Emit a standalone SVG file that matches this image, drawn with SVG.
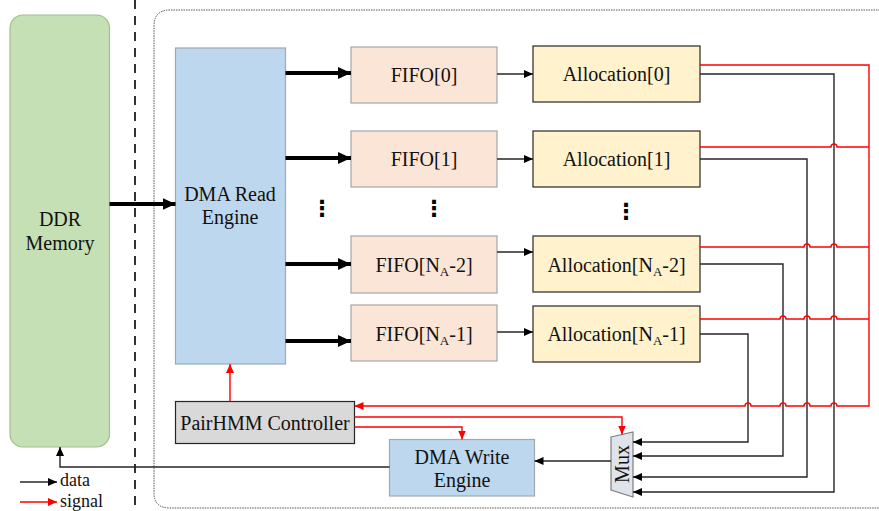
<svg xmlns="http://www.w3.org/2000/svg" width="879" height="511" viewBox="0 0 879 511">
<defs>
<marker id="ak" markerUnits="userSpaceOnUse" markerWidth="9" markerHeight="8" refX="9" refY="4" orient="auto"><path d="M0,0 L9,4 L0,8 z" fill="#000"/></marker>
<marker id="ar" markerUnits="userSpaceOnUse" markerWidth="9" markerHeight="8" refX="9" refY="4" orient="auto"><path d="M0,0 L9,4 L0,8 z" fill="#ff0000"/></marker>
<marker id="at" markerUnits="userSpaceOnUse" markerWidth="13" markerHeight="12" refX="13" refY="6" orient="auto"><path d="M0,0 L13,6 L0,12 z" fill="#000"/></marker>
</defs>
<style>
.lbl{font-family:'Liberation Serif','DejaVu Serif',serif;font-size:20px;fill:#111;text-anchor:middle}
.fifo{fill:#fbe5d6;stroke:#a6a6a6;stroke-width:1.2}
.alloc{fill:#fff2cc;stroke:#262626;stroke-width:1.2}
.blue{fill:#bdd7ee;stroke:#a0a8b0;stroke-width:1.2}
.k{fill:none;stroke:#262626;stroke-width:1.4;marker-end:url(#ak)}
.r{fill:none;stroke:#ff0000;stroke-width:1.4}
.ra{fill:none;stroke:#ff0000;stroke-width:1.4;marker-end:url(#ar)}
.t{fill:none;stroke:#000;stroke-width:4;marker-end:url(#at)}
.sub{font-size:13px}
.leg{font-size:18px;text-anchor:start}
.dots{font-family:'DejaVu Sans',sans-serif;font-size:22px;font-weight:bold;fill:#000;text-anchor:middle}
</style>
<rect width="879" height="511" fill="#fff"/>
<line x1="135" y1="0" x2="135" y2="511" stroke="#000" stroke-width="1.6" stroke-dasharray="9,7"/>
<path d="M900,10 H170 Q154,10 154,26 V493 Q154,508 170,508 H900" fill="none" stroke="#555" stroke-width="1" stroke-dasharray="1.5,1"/>

<g font-family="Liberation Serif, DejaVu Serif, serif">
<g id="ddr"><rect x="10" y="15" width="99.5" height="432" rx="13" fill="#c5e0b4" stroke="#a3bd8f" stroke-width="1.2"/><text class="lbl" x="60" y="226">DDR</text><text class="lbl" x="60" y="250">Memory</text></g>
<g id="dma-read"><rect class="blue" x="175.5" y="48" width="110" height="316"/><text class="lbl" x="230" y="201">DMA Read</text><text class="lbl" x="230" y="224">Engine</text></g>
<g id="fifo0"><rect class="fifo" x="351" y="47" width="146" height="56"/><text class="lbl" x="424" y="82">FIFO[0]</text></g>
<g id="fifo1"><rect class="fifo" x="351" y="131" width="146" height="56"/><text class="lbl" x="424" y="166">FIFO[1]</text></g>
<g id="fifo2"><rect class="fifo" x="351" y="236" width="146" height="57"/><text class="lbl" x="424" y="272">FIFO[N<tspan class="sub" dy="4">A</tspan><tspan dy="-4">-2]</tspan></text></g>
<g id="fifo3"><rect class="fifo" x="351" y="305" width="146" height="56"/><text class="lbl" x="424" y="341">FIFO[N<tspan class="sub" dy="4">A</tspan><tspan dy="-4">-1]</tspan></text></g>
<g id="alloc0"><rect class="alloc" x="533" y="46" width="167" height="56"/><text class="lbl" x="616.5" y="81">Allocation[0]</text></g>
<g id="alloc1"><rect class="alloc" x="533" y="131" width="167" height="56"/><text class="lbl" x="616.5" y="166">Allocation[1]</text></g>
<g id="alloc2"><rect class="alloc" x="533" y="236" width="167" height="56"/><text class="lbl" x="616.5" y="272">Allocation[N<tspan class="sub" dy="4">A</tspan><tspan dy="-4">-2]</tspan></text></g>
<g id="alloc3"><rect class="alloc" x="533" y="306" width="167" height="56"/><text class="lbl" x="616.5" y="341">Allocation[N<tspan class="sub" dy="4">A</tspan><tspan dy="-4">-1]</tspan></text></g>
<g id="dots"><text class="dots" x="322" y="216">⋮</text><text class="dots" x="434" y="216">⋮</text><text class="dots" x="626" y="219">⋮</text></g>
<g id="controller"><rect x="175.5" y="401.5" width="179" height="42" fill="#d9d9d9" stroke="#262626" stroke-width="1.2"/><text class="lbl" x="265" y="429.5">PairHMM Controller</text></g>
<g id="dma-write"><rect class="blue" x="389.5" y="439.5" width="145" height="56.5"/><text class="lbl" x="462" y="463.5">DMA Write</text><text class="lbl" x="462" y="487">Engine</text></g>
<g id="mux"><path d="M611,437 L633,432 L633,497 L611,490 z" fill="#dfe3ec" stroke="#7f7f7f" stroke-width="1.2"/><text class="lbl" transform="translate(629,464) rotate(-90)" font-size="21">Mux</text></g>
<g id="legend"><line class="k" x1="20" y1="482" x2="57" y2="482"/><text class="lbl leg" x="60" y="486">data</text><line class="ra" x1="20" y1="502" x2="57" y2="502"/><text class="lbl leg" x="60" y="506.5">signal</text></g>
</g>

<g id="connectors">
<line class="t" x1="109.5" y1="204" x2="175.5" y2="204"/>
<line class="t" x1="285.5" y1="73" x2="351" y2="73"/>
<line class="t" x1="285.5" y1="158" x2="351" y2="158"/>
<line class="t" x1="285.5" y1="264" x2="351" y2="264"/>
<line class="t" x1="285.5" y1="341" x2="351" y2="341"/>
<line class="k" x1="497" y1="74" x2="533" y2="74"/>
<line class="k" x1="497" y1="159" x2="533" y2="159"/>
<line class="k" x1="497" y1="252" x2="533" y2="252"/>
<line class="k" x1="497" y1="332" x2="533" y2="332"/>
<path class="k" d="M700,74 H834 V492 H633"/>
<path class="k" d="M700,159 H807 V477 H633"/>
<path class="k" d="M700,264 H783 V456 H633"/>
<path class="k" d="M700,334 H748 V442 H633"/>
<path class="k" d="M611,461 H534.5"/>
<path class="k" d="M389.5,467 H60 V447"/>
<path class="ra" d="M700,65 H869 V406 H837 A3,3 0 0 0 831,406 H810 A3,3 0 0 0 804,406 H786 A3,3 0 0 0 780,406 H751 A3,3 0 0 0 745,406 H354.5"/>
<path class="r" d="M700,147 H831 A3,3 0 0 1 837,147 H869"/>
<path class="r" d="M700,247 H804 A3,3 0 0 1 810,247 H831 A3,3 0 0 1 837,247 H869"/>
<path class="r" d="M700,319 H780 A3,3 0 0 1 786,319 H804 A3,3 0 0 1 810,319 H831 A3,3 0 0 1 837,319 H869"/>
<path class="ra" d="M230,401.5 V364"/>
<path class="ra" d="M354.5,417 H622 V434.5"/>
<path class="ra" d="M354.5,427 H462 V439.5"/>
</g>
</svg>
